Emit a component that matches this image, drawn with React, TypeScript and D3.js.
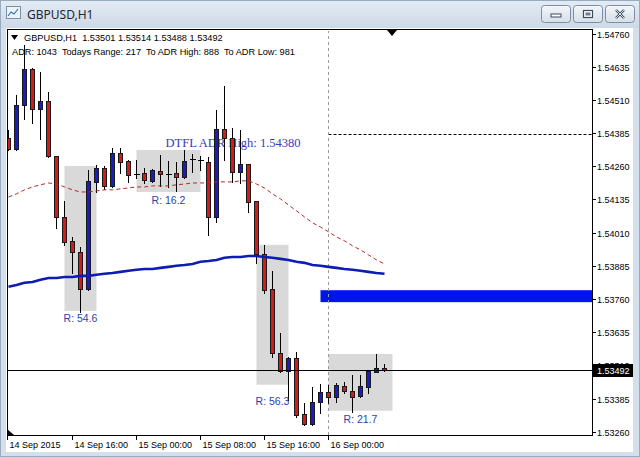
import { useEffect, useRef } from 'react';
import * as d3 from 'd3';

const W = 640;
const H = 457;

// plot area inside the MT4 chart window
const PLOT_LEFT = 7;
const PLOT_RIGHT = 592;
const PLOT_TOP = 30;
const PLOT_BOTTOM = 435;

const symbolTitle = 'GBPUSD,H1';
const headerLine = 'GBPUSD,H1  1.53501 1.53514 1.53488 1.53492';
const adrLine = 'ADR: 1043  Todays Range: 217  To ADR High: 888  To ADR Low: 981';

// H1 bars, first visible bar = 14 Sep 08:00, last = 16 Sep 07:00
const opens = [
  1.54367, 1.54325, 1.54491, 1.54626, 1.54476, 1.54506, 1.54299, 1.54069, 1.53979, 1.53937,
  1.53798, 1.54201, 1.54254, 1.54186, 1.5431, 1.5428, 1.54231, 1.54235, 1.54205, 1.54242,
  1.54231, 1.54235, 1.5422, 1.54288, 1.54284, 1.54276, 1.54069, 1.544, 1.54367, 1.54239,
  1.54269, 1.54129, 1.5393, 1.53798, 1.53557, 1.53489, 1.53538, 1.53327, 1.5329, 1.53373,
  1.5341, 1.53391, 1.53433, 1.53414, 1.53395, 1.53429, 1.53486, 1.53501,
];
const highs = [
  1.54397, 1.54528, 1.54717, 1.5463, 1.54615, 1.5454, 1.54299, 1.54129, 1.53994, 1.53956,
  1.54246, 1.54265, 1.54261, 1.54329, 1.54329, 1.54284, 1.54284, 1.54254, 1.5425, 1.54303,
  1.5428, 1.54276, 1.54321, 1.54306, 1.54299, 1.54295, 1.54472, 1.54562, 1.54404, 1.54397,
  1.54269, 1.54129, 1.53964, 1.53866, 1.53632, 1.53542, 1.53561, 1.53369, 1.53429, 1.5344,
  1.53437, 1.53444, 1.53448, 1.53474, 1.53474, 1.53493, 1.53553, 1.53514,
];
const lows = [
  1.54321, 1.54321, 1.54438, 1.54423, 1.54363, 1.54295, 1.54028, 1.53964, 1.53858, 1.53711,
  1.53794, 1.54163, 1.54175, 1.54182, 1.54235, 1.54201, 1.54216, 1.54197, 1.54201, 1.54186,
  1.54182, 1.54167, 1.54216, 1.54239, 1.54246, 1.54001, 1.5405, 1.54284, 1.54201, 1.54197,
  1.54088, 1.53896, 1.53783, 1.53542, 1.53486, 1.5338, 1.53316, 1.53286, 1.53286, 1.53331,
  1.53369, 1.53373, 1.53407, 1.53335, 1.53391, 1.53407, 1.53486, 1.53488,
];
const closes = [
  1.54325, 1.54491, 1.54626, 1.54476, 1.54506, 1.54299, 1.54069, 1.53975, 1.53937, 1.53798,
  1.54205, 1.54254, 1.54186, 1.5431, 1.54276, 1.54227, 1.54231, 1.54208, 1.54246, 1.54231,
  1.54231, 1.5422, 1.5428, 1.54288, 1.54284, 1.54069, 1.544, 1.54367, 1.54239, 1.54269,
  1.54126, 1.5393, 1.53794, 1.53557, 1.53489, 1.53538, 1.53324, 1.5329, 1.53373, 1.5341,
  1.53391, 1.53437, 1.53414, 1.53391, 1.53433, 1.53489, 1.53501, 1.53492,
];

// red dashed MA and blue MA
const maFast = [
  1.54144, 1.54156, 1.54171, 1.54182, 1.5419, 1.54197, 1.54193, 1.54182, 1.54171, 1.54163,
  1.54163, 1.54167, 1.54171, 1.54171, 1.54175, 1.54178, 1.54182, 1.54182, 1.54186, 1.54186,
  1.54186, 1.5419, 1.54193, 1.54197, 1.54197, 1.54197, 1.54201, 1.54201, 1.54201, 1.54205,
  1.54205, 1.54193, 1.54178, 1.54156, 1.54137, 1.54114, 1.54092, 1.54069, 1.54047, 1.54031,
  1.54013, 1.53994, 1.53979, 1.5396, 1.53945, 1.53926, 1.53907, 1.53892,
];
const maSlow = [
  1.53806, 1.53813, 1.53821, 1.53824, 1.53832, 1.53839, 1.53839, 1.53843, 1.53843, 1.53847,
  1.53847, 1.53851, 1.53855, 1.53858, 1.53862, 1.53866, 1.5387, 1.53873, 1.53873, 1.53877,
  1.53881, 1.53885, 1.53888, 1.53892, 1.539, 1.53903, 1.53907, 1.53915, 1.53918, 1.53918,
  1.53922, 1.53922, 1.53918, 1.53915, 1.53911, 1.53907, 1.539, 1.53896, 1.53888, 1.53885,
  1.53881, 1.53877, 1.53873, 1.5387, 1.53866, 1.53862, 1.53858, 1.53855,
];

const priceTicks = [
  1.5476, 1.54635, 1.5451, 1.54385, 1.5426, 1.54135, 1.5401, 1.53885, 1.5376, 1.53635,
  1.5351, 1.53385, 1.5326,
];
const timeTickBars = [0, 8, 16, 24, 32, 40];
const timeLabels = ['14 Sep 2015', '14 Sep 16:00', '15 Sep 00:00', '15 Sep 08:00', '15 Sep 16:00', '16 Sep 00:00'];

// range boxes
const rangeStart = [7, 16, 31, 40];
const rangeEnd = [11, 24, 35, 48];
const rangeHigh = [1.54261, 1.54321, 1.53964, 1.53553];
const rangeLow = [1.53715, 1.54163, 1.53437, 1.53339];
const rangePips = [54.6, 16.2, 56.3, 21.7];

const adrHigh = 1.5438;
const adrHighLabel = 'DTFL ADR High: 1.54380';
const adrHighLabelBar = 19.7;
const adrLineStartBar = 40;
const zoneStartBar = 39;
const zoneTop = 1.53793;
const zoneBottom = 1.53748;
const dayBreakBar = 40;
const bid = 1.53492;

const AXIS_FONT = '"Liberation Sans", Arial, sans-serif';

function drawChart(svgEl: SVGSVGElement) {
  const svg = d3.select(svgEl);
  svg.selectAll('*').remove();

  const x = d3.scaleLinear().domain([0, 47]).range([8, 384]);
  const y = d3.scaleLinear().domain([1.5326, 1.5476]).range([431.7, 33.5]);
  const px = (i: number) => Math.round(x(i)) + 0.5;
  const py = (v: number) => Math.round(y(v)) + 0.5;

  const defs = svg.append('defs');
  const tg = defs.append('linearGradient').attr('id', 'titlebar').attr('x1', 0).attr('x2', 0).attr('y1', 0).attr('y2', 1);
  tg.append('stop').attr('offset', '0%').attr('stop-color', '#e4ecf5');
  tg.append('stop').attr('offset', '100%').attr('stop-color', '#cdd9e7');
  const bg = defs.append('linearGradient').attr('id', 'btn').attr('x1', 0).attr('x2', 0).attr('y1', 0).attr('y2', 1);
  bg.append('stop').attr('offset', '0%').attr('stop-color', '#f4f7fb');
  bg.append('stop').attr('offset', '100%').attr('stop-color', '#d5dee9');
  defs.append('clipPath').attr('id', 'plotclip')
    .append('rect')
    .attr('x', PLOT_LEFT + 1).attr('y', PLOT_TOP + 1)
    .attr('width', PLOT_RIGHT - PLOT_LEFT - 1).attr('height', PLOT_BOTTOM - PLOT_TOP - 1);

  // window frame
  svg.append('rect').attr('width', W).attr('height', H).attr('fill', '#d3dfeb');
  svg.append('rect').attr('width', W).attr('height', 28).attr('fill', 'url(#titlebar)');
  svg.append('rect').attr('x', 0.5).attr('y', 0.5).attr('width', W - 1).attr('height', H - 1)
    .attr('fill', 'none').attr('stroke', '#9aabc0');

  // title icon
  const icon = svg.append('g').attr('transform', 'translate(6,6)');
  icon.append('rect').attr('x', 0.5).attr('y', 0.5).attr('width', 14).attr('height', 12)
    .attr('fill', '#eef3f8').attr('stroke', '#7b8fa8');
  icon.append('path').attr('d', 'M2,10 L5,6 L8,8 L12,3').attr('fill', 'none').attr('stroke', '#3a6fb0').attr('stroke-width', 1.2);
  svg.append('text').attr('x', 27).attr('y', 19)
    .attr('font-family', '"Noto Sans", "Open Sans", sans-serif').attr('font-size', 12)
    .attr('fill', '#1e2733').text(symbolTitle);

  // window buttons
  const btnX = [541, 573, 605];
  btnX.forEach((bx, k) => {
    svg.append('rect').attr('x', bx + 0.5).attr('y', 5.5).attr('width', 29).attr('height', 17).attr('rx', 3)
      .attr('fill', 'url(#btn)').attr('stroke', '#7d8ea6');
    const cxb = bx + 15;
    if (k === 0) {
      svg.append('rect').attr('x', cxb - 5).attr('y', 14).attr('width', 10).attr('height', 3)
        .attr('fill', '#fff').attr('stroke', '#3c4a5c');
    } else if (k === 1) {
      svg.append('rect').attr('x', cxb - 4.5).attr('y', 10.5).attr('width', 9).attr('height', 7)
        .attr('fill', '#fff').attr('stroke', '#3c4a5c').attr('stroke-width', 1.2);
      svg.append('rect').attr('x', cxb - 2.5).attr('y', 12.5).attr('width', 5).attr('height', 3)
        .attr('fill', '#6c7a8c');
    } else {
      svg.append('path').attr('d', `M${cxb - 4},${10} L${cxb + 4},${18} M${cxb + 4},${10} L${cxb - 4},${18}`)
        .attr('stroke', '#3c4a5c').attr('stroke-width', 2.4);
      svg.append('path').attr('d', `M${cxb - 4},${10} L${cxb + 4},${18} M${cxb + 4},${10} L${cxb - 4},${18}`)
        .attr('stroke', '#fff').attr('stroke-width', 0.8);
    }
  });

  // chart client area
  svg.append('rect').attr('x', 6).attr('y', 28).attr('width', 627).attr('height', 424).attr('fill', '#fff');

  const plot = svg.append('g').attr('clip-path', 'url(#plotclip)');

  // range boxes
  rangeStart.forEach((s, k) => {
    plot.append('rect')
      .attr('x', px(s)).attr('y', y(rangeHigh[k]))
      .attr('width', px(rangeEnd[k]) - px(s))
      .attr('height', y(rangeLow[k]) - y(rangeHigh[k]))
      .attr('fill', '#d9d9d9');
  });

  // supply/demand zone
  plot.append('rect')
    .attr('x', px(zoneStartBar)).attr('y', y(zoneTop))
    .attr('width', PLOT_RIGHT - px(zoneStartBar))
    .attr('height', y(zoneBottom) - y(zoneTop))
    .attr('fill', '#0014ee');

  // ADR high label + level
  plot.append('text')
    .attr('x', x(adrHighLabelBar)).attr('y', y(adrHigh) + 13)
    .attr('font-family', '"Liberation Serif", "Times New Roman", serif')
    .attr('font-size', 13).attr('textLength', 135).attr('lengthAdjust', 'spacingAndGlyphs')
    .attr('fill', '#3838b8').text(adrHighLabel);
  plot.append('line')
    .attr('x1', px(adrLineStartBar)).attr('x2', PLOT_RIGHT)
    .attr('y1', py(adrHigh)).attr('y2', py(adrHigh))
    .attr('stroke', '#000').attr('stroke-dasharray', '3,2');

  // day separator
  plot.append('line')
    .attr('x1', px(dayBreakBar)).attr('x2', px(dayBreakBar))
    .attr('y1', PLOT_TOP).attr('y2', PLOT_BOTTOM)
    .attr('stroke', '#9a9a9a').attr('stroke-dasharray', '3,3');

  // candles
  const idx = d3.range(opens.length);
  const candles = plot.append('g').attr('shape-rendering', 'crispEdges');
  idx.forEach((i) => {
    const cx = px(i);
    const o = opens[i];
    const c = closes[i];
    candles.append('line')
      .attr('x1', cx).attr('x2', cx)
      .attr('y1', Math.round(y(highs[i]))).attr('y2', Math.round(y(lows[i])) + 1)
      .attr('stroke', '#000');
    if (o === c) {
      candles.append('line')
        .attr('x1', cx - 3).attr('x2', cx + 3)
        .attr('y1', py(o)).attr('y2', py(o))
        .attr('stroke', '#000');
      return;
    }
    const top = py(Math.max(o, c));
    const bot = py(Math.min(o, c));
    candles.append('rect')
      .attr('x', cx - 2).attr('y', top)
      .attr('width', 4).attr('height', Math.max(1, bot - top))
      .attr('fill', c > o ? '#1b1bc2' : '#d21c1c')
      .attr('stroke', '#1a1a1a');
  });

  // moving averages
  const line = d3.line<number>().x((_, i) => px(i)).y((v) => y(v));
  plot.append('path').datum(maFast).attr('d', line)
    .attr('fill', 'none').attr('stroke', '#b82828').attr('stroke-width', 1).attr('stroke-dasharray', '4,3');
  plot.append('path').datum(maSlow).attr('d', line)
    .attr('fill', 'none').attr('stroke', '#0d1cb4').attr('stroke-width', 2.6);

  // bid line
  plot.append('line')
    .attr('x1', PLOT_LEFT).attr('x2', PLOT_RIGHT)
    .attr('y1', py(bid)).attr('y2', py(bid))
    .attr('stroke', '#000');

  // range labels
  rangeStart.forEach((s, k) => {
    plot.append('text')
      .attr('x', (x(s) + x(rangeEnd[k])) / 2 + 0.5)
      .attr('y', y(rangeHigh[k] - rangePips[k] / 10000) + 11)
      .attr('text-anchor', 'middle')
      .attr('font-family', AXIS_FONT).attr('font-size', 10.5)
      .attr('fill', '#2b44a6').text(`R: ${rangePips[k]}`);
  });

  // plot frame
  svg.append('rect')
    .attr('x', PLOT_LEFT + 0.5).attr('y', PLOT_TOP - 0.5)
    .attr('width', PLOT_RIGHT - PLOT_LEFT).attr('height', PLOT_BOTTOM - PLOT_TOP + 0.5)
    .attr('fill', 'none').attr('stroke', '#000').attr('shape-rendering', 'crispEdges');

  // price axis
  const yAxis = svg.append('g').attr('font-family', AXIS_FONT).attr('font-size', 9);
  priceTicks.forEach((p) => {
    const ty = py(p);
    yAxis.append('line').attr('x1', PLOT_RIGHT).attr('x2', PLOT_RIGHT + 4).attr('y1', ty).attr('y2', ty).attr('stroke', '#000');
    yAxis.append('text').attr('x', PLOT_RIGHT + 5).attr('y', ty + 3.2).attr('fill', '#000').text(p.toFixed(5));
  });
  yAxis.append('rect').attr('x', PLOT_RIGHT + 1).attr('y', py(bid) - 6.5).attr('width', 40).attr('height', 13).attr('fill', '#000');
  yAxis.append('text').attr('x', PLOT_RIGHT + 5).attr('y', py(bid) + 3.2).attr('fill', '#fff').text(bid.toFixed(5));

  // time axis
  const xAxis = svg.append('g').attr('font-family', AXIS_FONT).attr('font-size', 9);
  timeTickBars.forEach((b, k) => {
    const tx = k === 0 ? PLOT_LEFT + 0.5 : px(b);
    xAxis.append('line').attr('x1', tx).attr('x2', tx).attr('y1', PLOT_BOTTOM).attr('y2', PLOT_BOTTOM + 5).attr('stroke', '#000');
    xAxis.append('text').attr('x', tx + 2).attr('y', PLOT_BOTTOM + 12.5).attr('fill', '#000').text(timeLabels[k]);
  });

  // header texts
  svg.append('path').attr('d', 'M11,35 L18,35 L14.5,40 Z').attr('fill', '#000');
  svg.append('text').attr('x', 24).attr('y', 41)
    .attr('font-family', AXIS_FONT).attr('font-size', 9.2).attr('xml:space', 'preserve')
    .style('white-space', 'pre').attr('fill', '#000').text(headerLine);
  svg.append('text').attr('x', 12).attr('y', 55)
    .attr('font-family', AXIS_FONT).attr('font-size', 9.2)
    .style('white-space', 'pre').attr('fill', '#000').text(adrLine);

  // chart shift marker and corner marker
  svg.append('path').attr('d', 'M387,30 L397,30 L392,36 Z').attr('fill', '#000');
  svg.append('path').attr('d', `M${PLOT_LEFT},${PLOT_BOTTOM - 6} L${PLOT_LEFT},${PLOT_BOTTOM} L${PLOT_LEFT + 7},${PLOT_BOTTOM} Z`).attr('fill', '#000');
}

export default function App() {
  const svgRef = useRef<SVGSVGElement>(null);

  useEffect(() => {
    if (!svgRef.current) return;
    drawChart(svgRef.current);
  }, []);

  return (
    <div style={{ position: 'absolute', left: 0, top: 0, width: W, height: H }}>
      <svg ref={svgRef} width={W} height={H} style={{ display: 'block' }} />
    </div>
  );
}
